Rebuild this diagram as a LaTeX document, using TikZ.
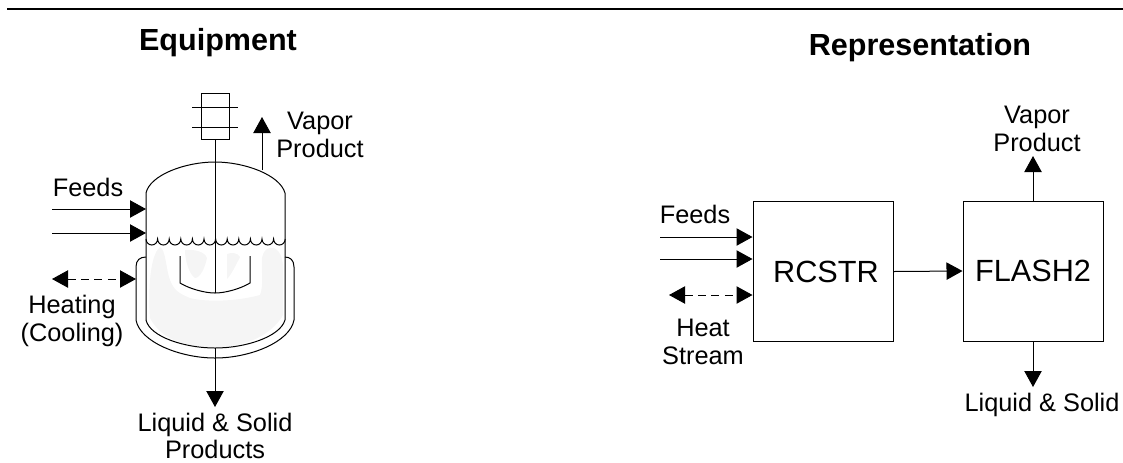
\documentclass[tikz,border=0pt]{standalone}
\usepackage{fontspec}
\setmainfont{Liberation Sans}
\usetikzlibrary{arrows.meta}
\tikzset{
  line/.style={line width=0.75pt,black},
  flow/.style={line, -{Triangle[length=12pt,width=13pt]}},
  dflow/.style={line, dash pattern=on 6pt off 4pt, {Triangle[length=12pt,width=13pt]}-{Triangle[length=12pt,width=13pt]}},
  lab/.style={align=center,font=\fontsize{19}{21}\selectfont,inner sep=0pt},
  ttl/.style={font=\fontsize{22.9}{26}\selectfont\bfseries,inner sep=0pt,anchor=base},
  unit/.style={draw,line width=0.75pt,minimum width=105pt,minimum height=105pt,inner sep=0pt,font=\fontsize{23}{26}\selectfont}
}
\begin{document}
\begin{tikzpicture}[x=0.75pt,y=-0.75pt]
\useasboundingbox (0,0) rectangle (1123,462);
\coordinate (ruleL) at (7,9); \coordinate (ruleR) at (1123,9);
\draw[line width=1.5pt] (ruleL) -- (ruleR);
\node[ttl] (t1) at (218,50) {Equipment};
\node[ttl] (t2) at (920,55) {Representation};
% liquid
\fill[black!4] (160,247) .. controls (166,250) and (166,270) .. (170,280) .. controls (174,290) and (178,293) .. (190,298) .. controls (200,301) and (230,303) .. (260,295) .. controls (264,285) and (261,270) .. (262,258) .. controls (264,248) and (270,247) .. (274,248) .. controls (282,252) and (284,262) .. (283,280) -- (283,315) .. controls (276,328) and (255,347) .. (215,347) .. controls (180,347) and (160,337) .. (150,318) .. controls (148,290) and (150,255) .. (160,247) -- cycle;
\fill[black!4] (185,250) .. controls (195,249) and (205,252) .. (207,258) .. controls (205,268) and (200,278) .. (195,278) .. controls (190,275) and (185,262) .. (185,250) -- cycle;
\fill[black!4] (227,254) .. controls (232,252) and (238,253) .. (240,257) .. controls (236,265) and (231,275) .. (227,279) -- cycle;
% vessel
\draw[line] (146,320) -- (146,193) .. controls (150,175) and (185,162) .. (215,162) .. controls (245,162) and (280,175) .. (285,193) -- (285,320);
\draw[line] (146,320) .. controls (150,337) and (185,348) .. (215,348) .. controls (245,348) and (280,337) .. (285,320);
% jacket
\draw[line] (146,257) .. controls (140,257) and (136,260) .. (136,267) -- (136,320) .. controls (140,342) and (180,358) .. (215,358) .. controls (250,358) and (290,342) .. (294,320) -- (294,267) .. controls (294,260) and (290,257) .. (285,257);
% level
\draw[line] (146,239) foreach \i in {0,...,11} { arc[start angle=180,end angle=360,x radius=5.8,y radius=-6] };
% motor
\node[draw,line width=0.75pt,minimum width=21pt,minimum height=34.5pt,inner sep=0pt] (motor) at (215,116) {};
\coordinate (m1l) at (192,107); \coordinate (m1r) at (238,107);
\coordinate (m2l) at (192,127); \coordinate (m2r) at (238,127);
\draw[line] (m1l) -- (m1r); \draw[line] (m2l) -- (m2r);
\coordinate (shaftEnd) at (215,293);
\draw[line] (motor.south) -- (shaftEnd);
% impeller
\draw[line] (180,256) -- (180,283) .. controls (190,289) and (205,293) .. (215,293) .. controls (225,293) and (240,289) .. (250,283) -- (250,256);
% left flows
\coordinate (vapS) at (262,170); \coordinate (vapE) at (262,117);
\draw[flow] (vapS) -- (vapE);
\node[lab] (lv) at (320,135) {Vapor\\Product};
\coordinate (f1s) at (52,209); \coordinate (f1e) at (146,209);
\coordinate (f2s) at (52,233); \coordinate (f2e) at (146,233);
\draw[flow] (f1s) -- (f1e); \draw[flow] (f2s) -- (f2e);
\node[lab] (lf) at (88,187) {Feeds};
\coordinate (h1) at (52,279); \coordinate (h2) at (136,279);
\draw[dflow] (h1) -- (h2);
\node[lab] (lh) at (72,321) {Heating\\(Cooling)};
\coordinate (ls) at (215,348); \coordinate (le) at (215,407);
\draw[flow] (ls) -- (le);
\node[lab,font=\fontsize{19}{20}\selectfont] (lq) at (215,436) {Liquid \& Solid\\Products};
% right
\node[unit] (rcstr) at (823,271.5) {\hspace{4.5pt}RCSTR};
\node[unit] (flash) at (1033,271) {FLASH2\hspace{3pt}};
\draw[flow] (rcstr.east) -- (flash.west);
\coordinate (rf1) at (660,237); \coordinate (rf2) at (660,259);
\draw[flow] (rf1) -- (rf1-|rcstr.west);
\draw[flow] (rf2) -- (rf2-|rcstr.west);
\node[lab] (rlf) at (695,214) {Feeds};
\coordinate (rh) at (669,295);
\draw[dflow] (rh) -- (rh-|rcstr.west);
\node[lab] (rlh) at (703,342) {Heat\\Stream};
\coordinate (rv) at (1033,156); \coordinate (rl) at (1033,387);
\draw[flow] (flash.north) -- (rv);
\draw[flow] (flash.south) -- (rl);
\node[lab] (rlv) at (1037,129) {Vapor\\Product};
\node[lab] (rll) at (1042,405) {Liquid \& Solid};
\end{tikzpicture}
\end{document}
